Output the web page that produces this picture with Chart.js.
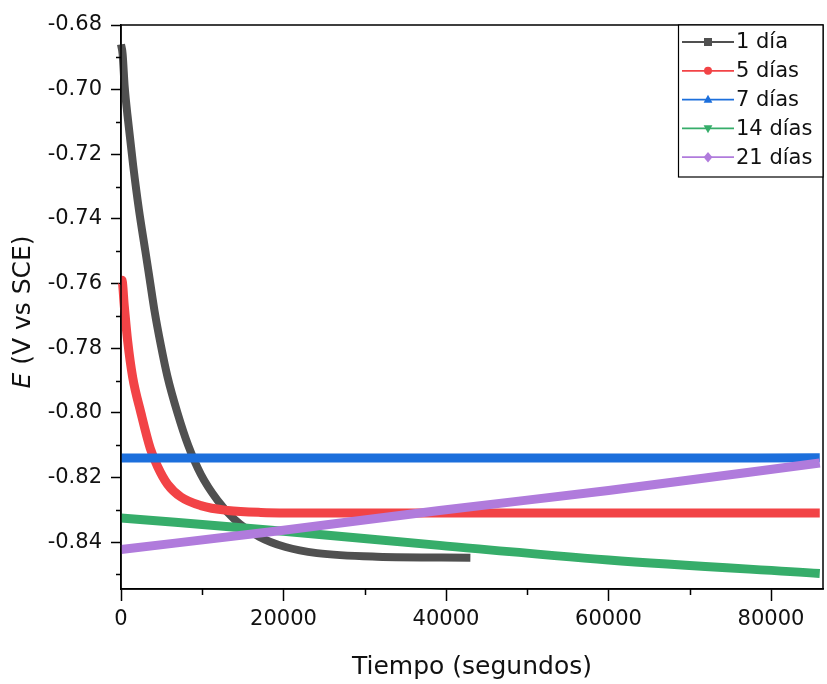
<!DOCTYPE html>
<html>
<head>
<meta charset="utf-8">
<script src="https://cdn.jsdelivr.net/npm/chart.js@4.4.1/dist/chart.umd.min.js"></script>
<style>
  html, body { margin: 0; padding: 0; background: #fff; }
</style>
</head>
<body>
<canvas id="chart" width="827" height="684"></canvas>
<script>
// series names & colours
const seriesNames = ['1 día', '5 días', '7 días', '14 días', '21 días'];
const seriesColors = ['#505050', '#f24346', '#1c6fdc', '#36ad6a', '#b07bdc'];
const seriesMarkers = ['square', 'circle', 'triangle', 'triangleDown', 'diamond'];

// values (time in s, E in V vs SCE)
const day1Time = [0, 200, 450, 800, 1500, 2200, 3000, 3550, 4130, 4900, 5730, 6950, 8260, 9820, 11860, 13900, 17000, 20250, 24130, 31500, 43000];
const day1E = [-0.6860, -0.6890, -0.6990, -0.7080, -0.7235, -0.7370, -0.7500, -0.7590, -0.7685, -0.7790, -0.7889, -0.8000, -0.8100, -0.8190, -0.8270, -0.8328, -0.8383, -0.8415, -0.8434, -0.8445, -0.8448];

const day5Time = [0, 120, 400, 820, 1430, 2450, 3600, 4500, 5730, 7360, 9820, 13100, 17200, 25000, 40000, 60000, 86000];
const day5E = [-0.7590, -0.7590, -0.7668, -0.7778, -0.7889, -0.8000, -0.8110, -0.8166, -0.8221, -0.8260, -0.8287, -0.8302, -0.8308, -0.8310, -0.8310, -0.8310, -0.8310];

const day7Time = [0, 20000, 40000, 60000, 86000];
const day7E = [-0.8140, -0.8140, -0.8140, -0.8140, -0.8139];

const day14Time = [0, 20000, 39200, 60000, 86000];
const day14E = [-0.8325, -0.8366, -0.8410, -0.8455, -0.8497];

const day21Time = [0, 20000, 39200, 60000, 86000];
const day21E = [-0.8423, -0.8363, -0.8302, -0.8240, -0.8155];

// axis ticks
const xTicks = [0, 20000, 40000, 60000, 80000];
const xMinorTicks = [10000, 30000, 50000, 70000];
const yTicks = [-0.84, -0.82, -0.80, -0.78, -0.76, -0.74, -0.72, -0.70, -0.68];
const yMinorTicks = [-0.85, -0.83, -0.81, -0.79, -0.77, -0.75, -0.73, -0.71, -0.69];

const allTimes = [day1Time, day5Time, day7Time, day14Time, day21Time];
const allE = [day1E, day5E, day7E, day14E, day21E];

const FONT = "'DejaVu Sans', sans-serif";

const toPoints = (ts, es) => ts.map((t, i) => ({ x: t, y: es[i] }));

function drawMarker(ctx, kind, x, y, r) {
  ctx.beginPath();
  if (kind === 'square') {
    ctx.rect(x - r, y - r, 2 * r, 2 * r);
  } else if (kind === 'circle') {
    ctx.arc(x, y, r, 0, Math.PI * 2);
  } else if (kind === 'triangle') {
    ctx.moveTo(x, y - r * 1.2);
    ctx.lineTo(x + r * 1.1, y + r * 0.8);
    ctx.lineTo(x - r * 1.1, y + r * 0.8);
    ctx.closePath();
  } else if (kind === 'triangleDown') {
    ctx.moveTo(x, y + r * 1.2);
    ctx.lineTo(x + r * 1.1, y - r * 0.8);
    ctx.lineTo(x - r * 1.1, y - r * 0.8);
    ctx.closePath();
  } else if (kind === 'diamond') {
    ctx.moveTo(x, y - r * 1.3);
    ctx.lineTo(x + r * 1.1, y);
    ctx.lineTo(x, y + r * 1.3);
    ctx.lineTo(x - r * 1.1, y);
    ctx.closePath();
  }
  ctx.fill();
}

// frame, minor ticks, y title (italic E) and the boxed legend
const decorations = {
  id: 'decorations',
  afterDraw(chart) {
    const { ctx, chartArea: a, scales: { x, y } } = chart;
    ctx.save();
    ctx.strokeStyle = '#000';
    ctx.lineWidth = 1.5;
    ctx.strokeRect(a.left, a.top, a.right - a.left, a.bottom - a.top);

    ctx.beginPath();
    xMinorTicks.forEach(v => {
      const px = Math.round(x.getPixelForValue(v)) + 0.5;
      ctx.moveTo(px, a.bottom); ctx.lineTo(px, a.bottom + 6);
    });
    yMinorTicks.forEach(v => {
      const py = Math.round(y.getPixelForValue(v)) + 0.5;
      ctx.moveTo(a.left, py); ctx.lineTo(a.left - 5, py);
    });
    ctx.stroke();

    // y axis title
    ctx.save();
    ctx.translate(23, 312);
    ctx.rotate(-Math.PI / 2);
    ctx.fillStyle = '#111';
    ctx.textBaseline = 'middle';
    const italic = 'italic 25px ' + FONT;
    const normal = '25px ' + FONT;
    ctx.font = italic;
    const w1 = ctx.measureText('E').width;
    ctx.font = normal;
    const w2 = ctx.measureText(' (V vs SCE)').width;
    const sx = -(w1 + w2) / 2;
    ctx.font = italic;
    ctx.fillText('E', sx, 0);
    ctx.font = normal;
    ctx.fillText(' (V vs SCE)', sx + w1, 0);
    ctx.restore();

    // legend
    const lx = 678, ly = a.top, lw = a.right - 678, lh = 152;
    ctx.fillStyle = '#fff';
    ctx.fillRect(lx, ly, lw, lh);
    ctx.lineWidth = 1.2;
    ctx.strokeStyle = '#000';
    ctx.strokeRect(lx + 0.5, ly, lw - 0.5, lh);
    ctx.font = '21px ' + FONT;
    ctx.textBaseline = 'middle';
    seriesNames.forEach((name, i) => {
      const yy = ly + 17 + i * 28.8;
      ctx.strokeStyle = seriesColors[i];
      ctx.fillStyle = seriesColors[i];
      ctx.lineWidth = 1.8;
      ctx.beginPath();
      ctx.moveTo(lx + 4, yy); ctx.lineTo(lx + 56, yy);
      ctx.stroke();
      drawMarker(ctx, seriesMarkers[i], lx + 30, yy, 4);
      ctx.fillStyle = '#111';
      ctx.fillText(name, lx + 58, yy + 1);
    });
    ctx.restore();
  }
};

new Chart(document.getElementById('chart'), {
  type: 'scatter',
  data: {
    datasets: seriesNames.map((name, i) => ({
      label: name,
      data: toPoints(allTimes[i], allE[i]),
      showLine: true,
      borderColor: seriesColors[i],
      backgroundColor: seriesColors[i],
      borderWidth: i === 0 ? 8 : 9,
      pointRadius: 0,
      cubicInterpolationMode: 'monotone',
      clip: false,
      order: 4 - i
    }))
  },
  options: {
    responsive: false,
    animation: false,
    layout: { padding: { top: 25, right: 4, left: 0, bottom: 0 } },
    plugins: {
      legend: { display: false },
      tooltip: { enabled: false }
    },
    scales: {
      x: {
        type: 'linear',
        min: 0,
        max: 86400,
        afterBuildTicks: s => { s.ticks = xTicks.map(v => ({ value: v })); },
        afterFit: s => { s.height = 95; },
        grid: { drawOnChartArea: false, tickLength: 12, tickWidth: 1.5, tickColor: '#000' },
        border: { color: '#000', width: 1.5 },
        ticks: {
          padding: 6,
          color: '#111',
          font: { family: FONT, size: 21 },
          maxRotation: 0,
          callback: v => String(v)
        },
        title: {
          display: true,
          text: 'Tiempo (segundos)',
          color: '#111',
          font: { family: FONT, size: 25 },
          padding: { top: 0, bottom: 2 }
        }
      },
      y: {
        min: -0.8545,
        max: -0.68,
        afterBuildTicks: s => { s.ticks = yTicks.map(v => ({ value: v })); },
        afterFit: s => { s.width = 121; },
        grid: { drawOnChartArea: false, tickLength: 10, tickWidth: 1.5, tickColor: '#000' },
        border: { color: '#000', width: 1.5 },
        ticks: {
          padding: 9,
          color: '#111',
          font: { family: FONT, size: 21 },
          callback: v => v.toFixed(2)
        }
      }
    }
  },
  plugins: [decorations]
});
</script>
</body>
</html>
